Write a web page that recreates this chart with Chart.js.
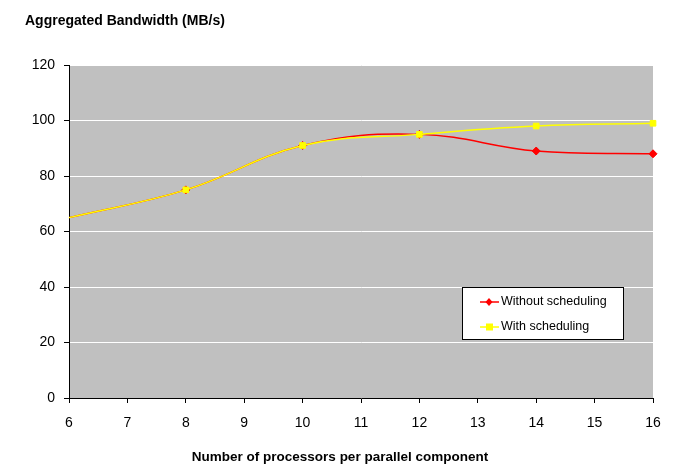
<!DOCTYPE html>
<html><head><meta charset="utf-8">
<script src="https://cdn.jsdelivr.net/npm/chart.js@4.4.1/dist/chart.umd.min.js"></script>
<style>html,body{margin:0;padding:0;background:#fff;}#wrap{width:675px;height:464px;position:relative;}</style>
</head><body><div id="wrap"><canvas id="c" width="675" height="464"></canvas></div>
<script>
const processors = [6, 8, 10, 12, 14, 16];
const withoutScheduling = [65, 75, 91, 95, 89, 88];
const withScheduling = [65, 75, 91, 95, 98, 99];
const yTicks = [0, 20, 40, 60, 80, 100, 120];
const seriesNames = ['Without scheduling', 'With scheduling'];
const yTitle = 'Aggregated Bandwidth (MB/s)';
const xTitle = 'Number of processors per parallel component';

const FONT = '"Liberation Sans", Arial, sans-serif';

const bgPlugin = {
  id: 'bg',
  beforeDraw(chart) {
    const {ctx, chartArea: a} = chart;
    ctx.save();
    ctx.fillStyle = '#fff';
    ctx.fillRect(0, 0, chart.width, chart.height);
    ctx.fillStyle = '#C0C0C0';
    ctx.fillRect(a.left, a.top, a.right - a.left, a.bottom - a.top);
    ctx.restore();
  },
  afterDraw(chart) {
    const ctx = chart.ctx;
    ctx.save();
    ctx.fillStyle = '#000';
    ctx.textBaseline = 'alphabetic';
    ctx.textAlign = 'left';
    ctx.font = 'bold 14px ' + FONT;
    ctx.fillText(yTitle, 25, 25);
    ctx.font = 'bold 13.5px ' + FONT;
    ctx.textAlign = 'center';
    ctx.fillText(xTitle, 340, 461);
    // legend
    const x0 = 462, y0 = 287, w = 161, h = 52;
    ctx.fillStyle = '#fff';
    ctx.fillRect(x0, y0, w, h);
    ctx.strokeStyle = '#000';
    ctx.lineWidth = 1;
    ctx.strokeRect(x0 + 0.5, y0 + 0.5, w, h);
    const ds = chart.data.datasets;
    const rows = [302, 327];
    ctx.textAlign = 'left';
    ds.forEach((d, i) => {
      const y = rows[i];
      ctx.strokeStyle = d.borderColor;
      ctx.lineWidth = 1.5;
      ctx.beginPath(); ctx.moveTo(480, y); ctx.lineTo(499, y); ctx.stroke();
      ctx.fillStyle = d.pointBackgroundColor;
      if (d.pointStyle === 'rectRot') {
        ctx.beginPath(); ctx.moveTo(489, y - 4); ctx.lineTo(492.5, y); ctx.lineTo(489, y + 4); ctx.lineTo(485.5, y); ctx.closePath(); ctx.fill();
      } else {
        ctx.fillRect(486, y - 3.5, 7, 7);
      }
      ctx.fillStyle = '#000';
      ctx.font = '12.5px ' + FONT;
      ctx.textBaseline = 'middle';
      ctx.fillText(d.label, 501, y);
    });
    ctx.restore();
  }
};

new Chart(document.getElementById('c'), {
  type: 'line',
  data: {
    labels: processors,
    datasets: [
      {
        label: seriesNames[0],
        data: processors.map((p, i) => ({x: p, y: withoutScheduling[i]})),
        borderColor: '#FF0000', backgroundColor: '#FF0000', pointBackgroundColor: '#FF0000', pointBorderColor: '#FF0000',
        borderWidth: 1.5, pointStyle: 'rectRot', pointRadius: [0, 4, 4, 4, 4, 4], pointBorderWidth: 1, tension: 0.4, order: 2
      },
      {
        label: seriesNames[1],
        data: processors.map((p, i) => ({x: p, y: withScheduling[i]})),
        borderColor: '#FFFF00', backgroundColor: '#FFFF00', pointBackgroundColor: '#FFFF00', pointBorderColor: '#FFFF00',
        borderWidth: 1.5, pointStyle: 'rect', pointRadius: [0, 4, 4, 4, 4, 4], pointBorderWidth: 1, tension: 0.4, order: 1
      }
    ]
  },
  options: {
    responsive: false,
    animation: false,
    clip: false,
    layout: {padding: {left: 0, right: 22, top: 65, bottom: 36}},
    plugins: {legend: {display: false}, tooltip: {enabled: false}},
    scales: {
      x: {
        type: 'linear', min: 6, max: 16,
        afterFit(s) { s.height = 30; },
        ticks: {stepSize: 1, color: '#000', font: {family: FONT, size: 14}, padding: 12, maxRotation: 0},
        grid: {drawOnChartArea: false, drawTicks: true, tickLength: 5, tickColor: '#000'},
        border: {color: '#000', width: 1}
      },
      y: {
        min: 0, max: 120,
        afterBuildTicks(s) { s.ticks = yTicks.map(v => ({value: v})); },
        afterFit(s) { s.width = 69; },
        ticks: {color: '#000', font: {family: FONT, size: 14}, padding: 9},
        grid: {color: '#FFFFFF', lineWidth: 1, drawTicks: true, tickLength: 5, tickColor: '#000'},
        border: {color: '#000', width: 1}
      }
    }
  },
  plugins: [bgPlugin]
});
</script></body></html>
